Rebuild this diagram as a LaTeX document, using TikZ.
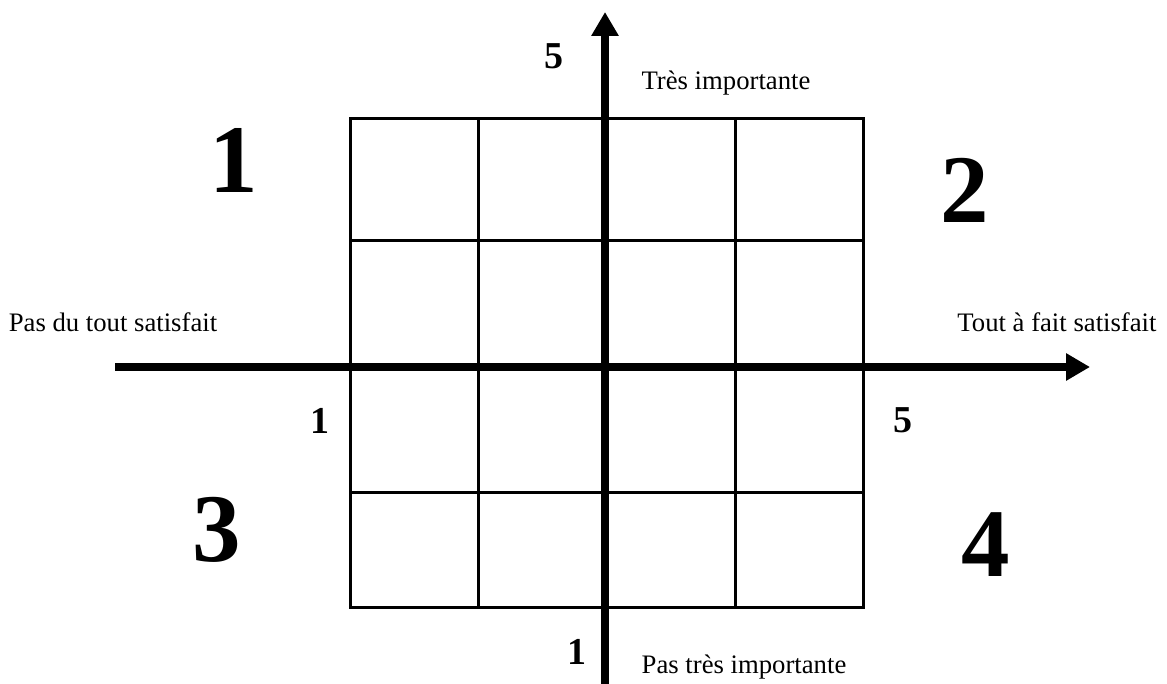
\documentclass[tikz,border=0pt]{standalone}
\usepackage{fontspec}
\setmainfont{Liberation Serif}
\usetikzlibrary{arrows.meta}
\begin{document}
\begin{tikzpicture}[x=1pt,y=-1pt,
  gridline/.style={line width=3pt, line cap=rect},
  axisline/.style={line width=8pt, -{Triangle[length=24pt,width=26pt]}},
  lbl/.style={inner sep=0pt, font=\fontsize{26.7}{30}\selectfont, anchor=base},
  tick/.style={inner sep=0pt, font=\fontsize{38}{42}\selectfont\bfseries},
  quad/.style={inner sep=0pt, font=\fontsize{97}{100}\selectfont\bfseries}]
\useasboundingbox (0,0) rectangle (1167,684);
% grid corners
\coordinate (g00) at (350,119);
\coordinate (g11) at (863,607);
% grid
\draw[gridline] (g00) rectangle (g11);
\foreach \x in {478,606,735} \draw[gridline] (\x,119) -- (\x,607);
\foreach \y in {241,367,492} \draw[gridline] (350,\y) -- (863,\y);
% axes
\coordinate (hs) at (115,367);
\coordinate (he) at (1090,367);
\coordinate (vs) at (605,684);
\coordinate (ve) at (605,12);
\draw[axisline] (hs) -- (he);
\draw[axisline] (vs) -- (ve);
% labels
\node[lbl] (ti) at (726,90) {Très importante};
\node[lbl] (pti) at (744,673) {Pas très importante};
\node[lbl] (pds) at (113,332) {Pas du tout satisfait};
\node[lbl] (tfs) at (1057,332) {Tout à fait satisfait};
\node[tick] (v5) at (554,56) {5};
\node[tick] (v1) at (577,652) {1};
\node[tick] (h1) at (320,421) {1};
\node[tick] (h5) at (903,420) {5};
\node[quad] (q1) at (234,160) {1};
\node[quad] (q2) at (965,190) {2};
\node[quad] (q3) at (217,530) {3};
\node[quad] (q4) at (986,545) {4};
\end{tikzpicture}
\end{document}
